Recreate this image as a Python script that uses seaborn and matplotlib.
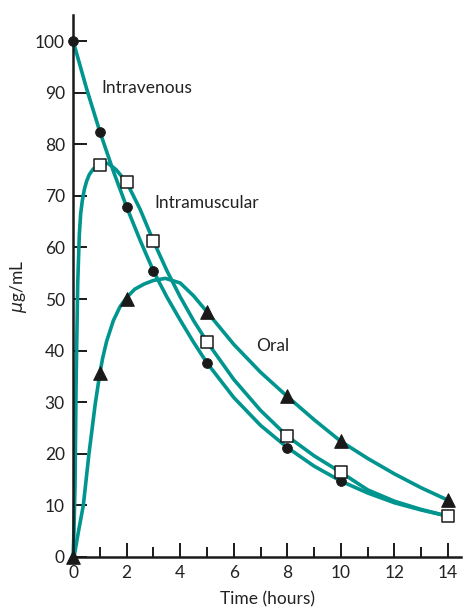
import numpy as np
import pandas as pd
import matplotlib
matplotlib.use("Agg")
import matplotlib.pyplot as plt
import seaborn as sns

# measured points (hours, ug/mL)
t_iv = [0, 1, 2, 3, 5, 8, 10, 14]
c_iv = [100, 82.4, 67.8, 55.4, 37.6, 21.2, 14.7, 7.9]
t_im = [1, 2, 3, 5, 8, 10, 14]
c_im = [76, 72.6, 61.2, 41.7, 23.4, 16.4, 7.9]
t_oral = [0, 1, 2, 5, 8, 10, 14]
c_oral = [0, 35.7, 50, 47.5, 31.1, 22.4, 11]

# fitted curves
iv_curve_t = [0, 0.5, 1, 1.5, 2, 2.5, 3, 3.5, 4, 4.5, 5, 6, 7, 8, 9, 10, 11, 12, 13, 14]
iv_curve_c = [100, 90.8, 82.4, 74.8, 67.8, 61.4, 55.4, 50.4, 45.9, 41.6, 37.6, 30.9, 25.5,
              21.2, 17.6, 14.7, 12.4, 10.5, 9.1, 7.9]
im_curve_t = [0, 0.03, 0.07, 0.11, 0.17, 0.23, 0.28, 0.34, 0.42, 0.5, 0.6, 0.75, 1.0, 1.3,
              1.6, 2, 2.5, 3, 3.5, 4, 4.5, 5, 6, 7, 8, 9, 10, 11, 12, 13, 14]
im_curve_c = [0, 5, 14, 34, 53, 62.5, 66.5, 69, 71.3, 72.8, 74.1, 75.2, 76.2, 76.3,
              75.1, 72.6, 67.4, 61.2, 55.5, 50.4, 45.8, 41.7, 34.4, 28.4, 23.4, 19.6, 16.4,
              13.0, 10.8, 9.2, 7.9]
oral_curve_t = [0, 0.05, 0.2, 0.38, 0.59, 0.7, 0.82, 1.0, 1.1, 1.25, 1.5, 1.75, 2.0, 2.3,
                2.65, 3.0, 3.45, 4.0, 4.5, 5, 6, 7, 8, 9, 10, 11, 12, 13, 14]
oral_curve_c = [0, 0.5, 5, 10, 20, 24.5, 29.5, 35.7, 38.5, 41.8, 45.8, 48.5, 50.3, 51.9,
                52.9, 53.6, 54.0, 53.1, 50.6, 47.5, 41.2, 35.8, 31.1, 26.6, 22.4, 19.1, 16.1,
                13.4, 11]

x_ticks = [0, 2, 4, 6, 8, 10, 12, 14]
y_ticks = [0, 10, 20, 30, 40, 50, 60, 70, 80, 90, 100]

teal = "#00958E"

sns.set_style("ticks")
plt.rcParams["font.family"] = ["Lato", "DejaVu Sans"]

fig = plt.figure(figsize=(4.66, 6.12), dpi=100)
ax = fig.add_axes([0.157, 0.09, 0.833, 0.885])

for t, c in [(iv_curve_t, iv_curve_c), (im_curve_t, im_curve_c), (oral_curve_t, oral_curve_c)]:
    sns.lineplot(x=t, y=c, ax=ax, color=teal, linewidth=2.6, sort=False,
                 estimator=None, zorder=2, clip_on=False)

sns.scatterplot(x=t_iv, y=c_iv, ax=ax, marker="o", s=50, color="#1a1a1a",
                edgecolor="#1a1a1a", zorder=3, clip_on=False)
sns.scatterplot(x=t_im, y=c_im, ax=ax, marker="s", s=80, color="white",
                edgecolor="#1a1a1a", linewidth=1.1, zorder=4, clip_on=False)
sns.scatterplot(x=t_oral, y=c_oral, ax=ax, marker="^", s=95, color="#1a1a1a",
                edgecolor="#1a1a1a", zorder=5, clip_on=False)

ax.text(1.07, 90.9, "Intravenous", fontsize=12.5, ha="left", va="center", color="#222222")
ax.text(3.02, 68.7, "Intramuscular", fontsize=12.5, ha="left", va="center", color="#222222")
ax.text(6.83, 40.9, "Oral", fontsize=12.5, ha="left", va="center", color="#222222")

ax.set_xlim(0, 14.5)
ax.set_ylim(0, 105)
ax.set_xticks(x_ticks)
ax.set_xticks(np.arange(1, 15, 2), minor=True)
ax.set_yticks(y_ticks)
ax.tick_params(axis="both", which="major", direction="in", length=10, width=1.4,
               labelsize=12.5, pad=6, color="#1a1a1a", labelcolor="#222222")
ax.tick_params(axis="x", which="minor", direction="in", length=7, width=1.4, color="#1a1a1a")
sns.despine(ax=ax)
for s in ["left", "bottom"]:
    ax.spines[s].set_linewidth(1.8)
    ax.spines[s].set_color("#1a1a1a")

ax.set_xlabel("Time (hours)", fontsize=12.5, color="#222222", labelpad=7)
ax.set_ylabel("$\\mu$g/mL", fontsize=12.5, color="#222222", labelpad=4)

fig.savefig("out.png", dpi=100)
